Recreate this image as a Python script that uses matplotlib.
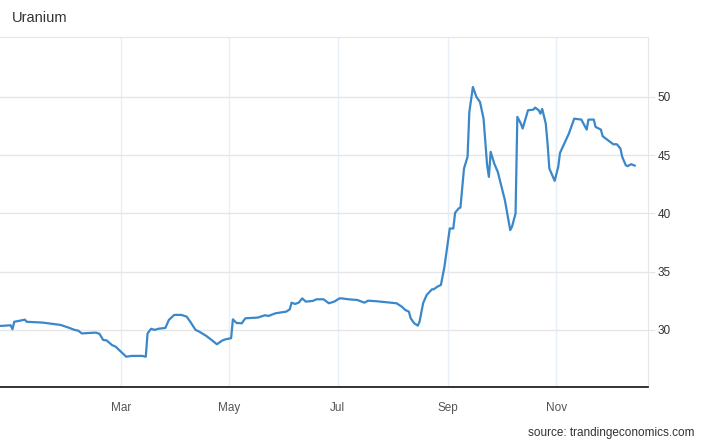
import matplotlib
matplotlib.use("Agg")
import matplotlib.pyplot as plt
import matplotlib.dates as mdates
import pandas as pd

INK = "#333333"
LINE = "#3a87c9"
GRID = "#e6e6e6"
VGRID = "#e8eff8"

plt.rcParams.update({"font.family": ["Liberation Sans", "DejaVu Sans"]})

dates = [
    "2020-12-23", "2020-12-29", "2020-12-30", "2020-12-31", "2021-01-06", "2021-01-07",
    "2021-01-16", "2021-01-22", "2021-01-26", "2021-01-30", "2021-02-03", "2021-02-05",
    "2021-02-07", "2021-02-15", "2021-02-17", "2021-02-19", "2021-02-21", "2021-02-24",
    "2021-02-26", "2021-03-01", "2021-03-04", "2021-03-07", "2021-03-13", "2021-03-15",
    "2021-03-16", "2021-03-18", "2021-03-20", "2021-03-22", "2021-03-26", "2021-03-28",
    "2021-03-31", "2021-04-04", "2021-04-07", "2021-04-09", "2021-04-12", "2021-04-14",
    "2021-04-18", "2021-04-21", "2021-04-24", "2021-04-27", "2021-04-29", "2021-05-02",
    "2021-05-03", "2021-05-05", "2021-05-08", "2021-05-10", "2021-05-17", "2021-05-21",
    "2021-05-23", "2021-05-27", "2021-06-02", "2021-06-04", "2021-06-05", "2021-06-07",
    "2021-06-09", "2021-06-11", "2021-06-13", "2021-06-17", "2021-06-19", "2021-06-23",
    "2021-06-26", "2021-06-29", "2021-07-02", "2021-07-03", "2021-07-07", "2021-07-12",
    "2021-07-16", "2021-07-18", "2021-07-23", "2021-07-29", "2021-08-03", "2021-08-06",
    "2021-08-08", "2021-08-10", "2021-08-11", "2021-08-13", "2021-08-15", "2021-08-16",
    "2021-08-18", "2021-08-20", "2021-08-23", "2021-08-24", "2021-08-26", "2021-08-28",
    "2021-08-30", "2021-09-02", "2021-09-04", "2021-09-05", "2021-09-07", "2021-09-08",
    "2021-09-10", "2021-09-12", "2021-09-13", "2021-09-15", "2021-09-17", "2021-09-19",
    "2021-09-21", "2021-09-23", "2021-09-24", "2021-09-25", "2021-09-27", "2021-09-29",
    "2021-10-03", "2021-10-06", "2021-10-07", "2021-10-09", "2021-10-10", "2021-10-12",
    "2021-10-13", "2021-10-16", "2021-10-19", "2021-10-20", "2021-10-22", "2021-10-23",
    "2021-10-24", "2021-10-26", "2021-10-27", "2021-10-28", "2021-10-31", "2021-11-02",
    "2021-11-03", "2021-11-05", "2021-11-08", "2021-11-11", "2021-11-14", "2021-11-15",
    "2021-11-18", "2021-11-19", "2021-11-22", "2021-11-23", "2021-11-26", "2021-11-27",
    "2021-11-29", "2021-11-30", "2021-12-03", "2021-12-05", "2021-12-07", "2021-12-08",
    "2021-12-10", "2021-12-11", "2021-12-13", "2021-12-15",
]
prices = [
    30.34, 30.40, 30.06, 30.70, 30.88, 30.70,
    30.63, 30.51, 30.43, 30.23, 30.00, 29.94,
    29.70, 29.77, 29.66, 29.14, 29.10, 28.70,
    28.57, 28.14, 27.70, 27.77, 27.77, 27.70,
    29.70, 30.10, 30.00, 30.10, 30.17, 30.86,
    31.29, 31.29, 31.14, 30.71, 30.00, 29.86,
    29.49, 29.14, 28.77, 29.09, 29.20, 29.29,
    30.91, 30.60, 30.57, 31.00, 31.06, 31.26,
    31.20, 31.43, 31.57, 31.77, 32.34, 32.23,
    32.34, 32.71, 32.43, 32.49, 32.63, 32.63,
    32.29, 32.43, 32.71, 32.71, 32.63, 32.57,
    32.34, 32.51, 32.46, 32.37, 32.29, 32.00,
    31.71, 31.57, 31.00, 30.57, 30.37, 30.71,
    32.29, 33.00, 33.49, 33.49, 33.71, 33.86,
    35.43, 38.71, 38.71, 40.06, 40.43, 40.51,
    43.86, 44.86, 48.71, 50.86, 50.00, 49.57,
    48.14, 44.14, 43.14, 45.29, 44.29, 43.57,
    41.14, 38.57, 38.86, 40.00, 48.29, 47.71,
    47.29, 48.86, 48.91, 49.09, 48.86, 48.57,
    48.97, 47.71, 46.00, 43.86, 42.80, 44.00,
    45.20, 45.86, 46.86, 48.14, 48.08, 48.06,
    47.20, 48.06, 48.06, 47.43, 47.20, 46.63,
    46.40, 46.29, 45.94, 45.94, 45.57, 44.86,
    44.14, 44.06, 44.23, 44.11,
]
y_ticks = [30, 35, 40, 45, 50]
month_ticks = ["2021-03-01", "2021-05-01", "2021-07-01", "2021-09-01", "2021-11-01"]

x = pd.to_datetime(dates)

fig = plt.figure(figsize=(7.04, 4.42), dpi=100)
ax = fig.add_axes([0.0, 55 / 442, 648 / 704, 350 / 442])

ax.plot(x, prices, color=LINE, lw=1.6, solid_joinstyle="round", zorder=3)

ax.set_xlim(pd.Timestamp("2020-12-23"), pd.Timestamp("2021-12-22 12:00"))
ax.set_ylim(25.1, 55.15)

ax.set_xticks(pd.to_datetime(month_ticks))
ax.xaxis.set_major_formatter(mdates.DateFormatter("%b"))
ax.set_yticks(y_ticks)

ax.yaxis.tick_right()
ax.tick_params(axis="y", length=5, width=0.8, color=GRID, labelsize=8.5,
               labelcolor=INK, pad=2)
ax.tick_params(axis="x", length=0, labelsize=8.5, labelcolor="#555555", pad=11)

ax.grid(axis="y", color=GRID, lw=1.0, zorder=0)
ax.grid(axis="x", color=VGRID, lw=1.0, zorder=0)

for side in ("left",):
    ax.spines[side].set_visible(False)
ax.spines["top"].set_color(GRID)
ax.spines["right"].set_color(GRID)
ax.spines["bottom"].set_color("#111111")
ax.spines["bottom"].set_linewidth(1.2)

fig.text(12 / 704, 1 - 18 / 442, "Uranium", fontsize=10.5, color=INK,
         ha="left", va="center")
fig.text(694 / 704, 1 - 433 / 442, "source: trandingeconomics.com", fontsize=8.5,
         color=INK, ha="right", va="center")

fig.savefig("out.png", dpi=100)
